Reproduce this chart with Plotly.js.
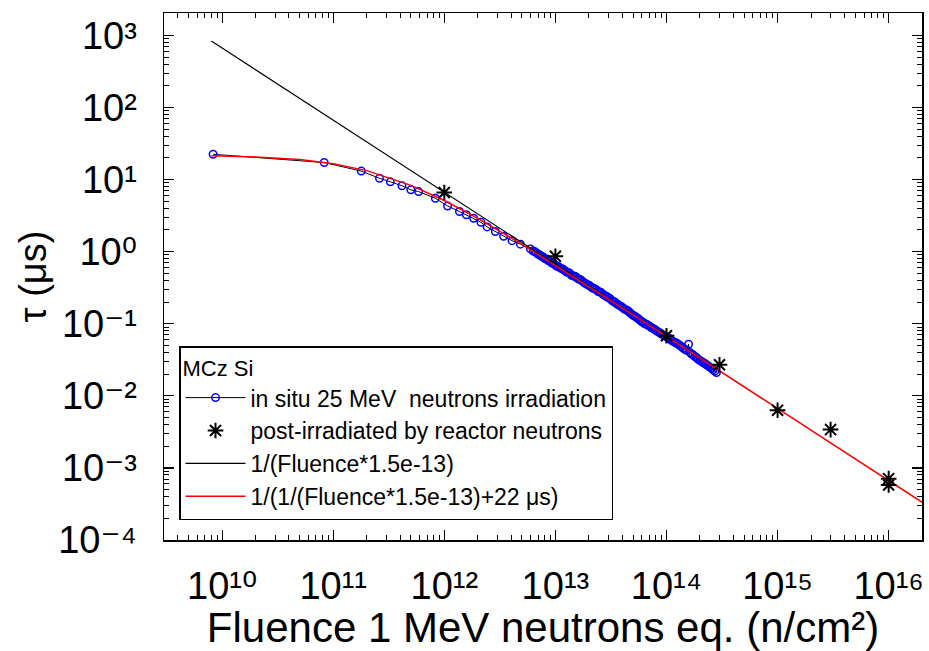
<!DOCTYPE html>
<html>
<head>
<meta charset="utf-8">
<script src="https://cdn.plot.ly/plotly-3.0.1.min.js"></script>
<style>
html,body{margin:0;padding:0;background:#fff;}
#chart{width:929px;height:651px;}
</style>
</head>
<body>
<div id="chart"></div>
<script>
// in situ 25 MeV neutrons irradiation (blue open circles)
const inSituFluence = [8.3e9, 8.3e10, 1.79e11, 2.61e11, 3.27e11, 4.16e11, 5.0e11, 5.87e11, 8.3e11, 1.07e12,
  1.37e12, 1.58e12, 1.84e12, 2.14e12, 2.43e12, 2.88e12, 3.42e12, 4.07e12, 4.84e12, 5.96e12,
  6.31e12, 6.53e12, 6.76e12, 7.0e12, 7.24e12, 7.5e12, 7.76e12, 8.03e12, 8.32e12, 8.61e12,
  8.91e12, 9.23e12, 9.55e12, 9.88e12, 1.023e13, 1.059e13, 1.096e13, 1.135e13, 1.175e13, 1.216e13,
  1.259e13, 1.303e13, 1.349e13, 1.396e13, 1.445e13, 1.496e13, 1.549e13, 1.603e13, 1.66e13, 1.718e13,
  1.778e13, 1.84e13, 1.905e13, 1.972e13, 2.042e13, 2.113e13, 2.188e13, 2.264e13, 2.344e13, 2.427e13,
  2.512e13, 2.6e13, 2.692e13, 2.786e13, 2.884e13, 2.985e13, 3.09e13, 3.2e13, 3.311e13, 3.428e13,
  3.548e13, 3.673e13, 3.802e13, 3.936e13, 4.074e13, 4.217e13, 4.365e13, 4.519e13, 4.677e13, 4.842e13,
  5.012e13, 5.188e13, 5.37e13, 5.559e13, 5.754e13, 5.957e13, 6.166e13, 6.383e13, 6.607e13, 6.839e13,
  7.079e13, 7.328e13, 7.586e13, 7.852e13, 8.128e13, 8.414e13, 8.71e13, 9.016e13, 9.333e13, 9.66e13,
  1.0e14, 1.035e14, 1.072e14, 1.109e14, 1.148e14, 1.189e14, 1.23e14, 1.274e14, 1.318e14, 1.365e14,
  1.413e14, 1.462e14, 1.514e14, 1.58e14, 1.622e14, 1.68e14, 1.738e14, 1.8e14, 1.862e14, 1.927e14,
  1.995e14, 2.065e14, 2.138e14, 2.213e14, 2.291e14, 2.371e14, 2.455e14, 2.541e14, 2.63e14, 2.722e14,
  2.818e14];
const inSituTau = [22.4, 17.2, 13.1, 10.4, 9.3, 8.2, 7.2, 6.8, 5.5, 4.3,
  3.6, 3.25, 2.9, 2.55, 2.2, 1.9, 1.63, 1.42, 1.27, 1.09,
  1.02, 1.00, 0.96, 0.92, 0.90, 0.86, 0.84, 0.80, 0.79, 0.75,
  0.74, 0.70, 0.69, 0.66, 0.63, 0.62, 0.60, 0.58, 0.57, 0.545,
  0.52, 0.515, 0.50, 0.47, 0.46, 0.455, 0.44, 0.42, 0.41, 0.40,
  0.38, 0.365, 0.355, 0.345, 0.335, 0.32, 0.31, 0.305, 0.295, 0.28,
  0.275, 0.268, 0.255, 0.245, 0.24, 0.23, 0.225, 0.212, 0.205, 0.20,
  0.19, 0.183, 0.178, 0.172, 0.165, 0.158, 0.155, 0.150, 0.143, 0.136,
  0.131, 0.127, 0.122, 0.118, 0.112, 0.108, 0.104, 0.100, 0.098, 0.095,
  0.092, 0.088, 0.086, 0.083, 0.080, 0.077, 0.075, 0.072, 0.070, 0.068,
  0.066, 0.063, 0.062, 0.059, 0.057, 0.055, 0.054, 0.052, 0.050, 0.048,
  0.046, 0.044, 0.043, 0.052, 0.040, 0.038, 0.037, 0.035, 0.034, 0.032,
  0.031, 0.030, 0.029, 0.028, 0.027, 0.026, 0.025, 0.024, 0.023, 0.022,
  0.021];

// post-irradiated by reactor neutrons (asterisks)
const reactorFluence = [1e12, 1e13, 1e14, 3e14, 1e15, 3e15, 1e16, 1e16];
const reactorTau = [6.6, 0.86, 0.068, 0.027, 0.0063, 0.0034, 0.00071, 0.00058];

// 1/(Fluence*1.5e-13)  (black line)
const fitAFluence = [8e9, 1e10, 1e11, 1e12, 1e13, 1e14, 3e14];
const fitATau = [833, 667, 66.7, 6.67, 0.667, 0.0667, 0.0222];

// 1/(1/(Fluence*1.5e-13)+22 us)  (red line)
const fitBFluence = [8e9, 2e10, 5e10, 1e11, 2e11, 5e11, 1e12, 2e12, 5e12, 1e13, 3e13, 1e14, 3e14, 1e15, 3e15, 1e16, 2e16];
const fitBTau = [21.4, 20.6, 18.9, 16.5, 13.3, 8.3, 5.12, 2.89, 1.26, 0.647, 0.22, 0.0665, 0.0222, 0.00666, 0.00222, 0.000667, 0.000333];

// tick labels
const xTickVals = [1e10, 1e11, 1e12, 1e13, 1e14, 1e15, 1e16];
const xTickText = ['10¹⁰', '10¹¹', '10¹²', '10¹³', '10¹⁴', '10¹⁵', '10¹⁶'];
const yTickVals = [1e-4, 1e-3, 1e-2, 1e-1, 1, 10, 100, 1000];
const yTickText = ['10⁻⁴', '10⁻³', '10⁻²', '10⁻¹', '10⁰', '10¹', '10²', '10³'];

const traces = [
  {
    x: inSituFluence, y: inSituTau, type: 'scatter', mode: 'lines+markers',
    name: 'in situ 25 MeV  neutrons irradiation', legendrank: 1,
    line: {color: 'black', width: 1},
    marker: {symbol: 'circle-open', size: 7.5, color: '#0000ff', line: {color: '#0000ff', width: 1.5}}
  },
  {
    x: fitAFluence, y: fitATau, type: 'scatter', mode: 'lines',
    name: '1/(Fluence*1.5e-13)', legendrank: 3,
    line: {color: 'black', width: 1.2}
  },
  {
    x: fitBFluence, y: fitBTau, type: 'scatter', mode: 'lines',
    name: '1/(1/(Fluence*1.5e-13)+22 μs)', legendrank: 4,
    line: {color: '#ff0000', width: 1.5}
  },
  {
    x: reactorFluence, y: reactorTau, type: 'scatter', mode: 'markers',
    name: 'post-irradiated by reactor neutrons', legendrank: 2,
    marker: {symbol: 'asterisk-open', size: 13, color: 'black', line: {color: 'black', width: 2}}
  }
];

const fontFam = 'Liberation Sans, Arial, DejaVu Sans, sans-serif';

const axisCommon = {
  type: 'log', showline: true, linecolor: 'black', linewidth: 1.5, mirror: 'allticks',
  ticks: 'inside', ticklen: 10, tickwidth: 1.2, tickcolor: 'black',
  showgrid: false, zeroline: false, tickmode: 'array',
  minor: {ticks: 'inside', ticklen: 5, tickwidth: 1, tickcolor: 'black', dtick: 'D1', showgrid: false},
  tickfont: {family: fontFam, size: 38, color: 'black'}
};

const layout = {
  width: 929, height: 651,
  margin: {l: 164, r: 7, t: 13, b: 111, pad: 0},
  paper_bgcolor: 'white', plot_bgcolor: 'white',
  showlegend: true,
  font: {family: fontFam, color: 'black'},
  xaxis: Object.assign({}, axisCommon, {
    range: [9.477, 16.30],
    tickvals: xTickVals, ticktext: xTickText,
    ticklabelstandoff: 12,
    title: {text: 'Fluence 1 MeV neutrons eq. (n/cm²)', font: {size: 42, color: 'black'}, standoff: 2}
  }),
  yaxis: Object.assign({}, axisCommon, {
    range: [-4.0, 3.31],
    tickvals: yTickVals, ticktext: yTickText,
    ticklabelstandoff: 18,
    title: {text: 'τ (μs)', font: {size: 38, color: 'black'}, standoff: 0}
  }),
  legend: {
    x: 0.0198, y: 0.368, xanchor: 'left', yanchor: 'top',
    bgcolor: 'white', bordercolor: 'black', borderwidth: 1.5,
    font: {size: 23, color: 'black'},
    itemwidth: 60,
    title: {text: 'MCz Si', font: {size: 22, color: 'black'}},
    traceorder: 'normal'
  }
};

Plotly.newPlot('chart', traces, layout, {displayModeBar: false, staticPlot: true});
</script>
</body>
</html>
